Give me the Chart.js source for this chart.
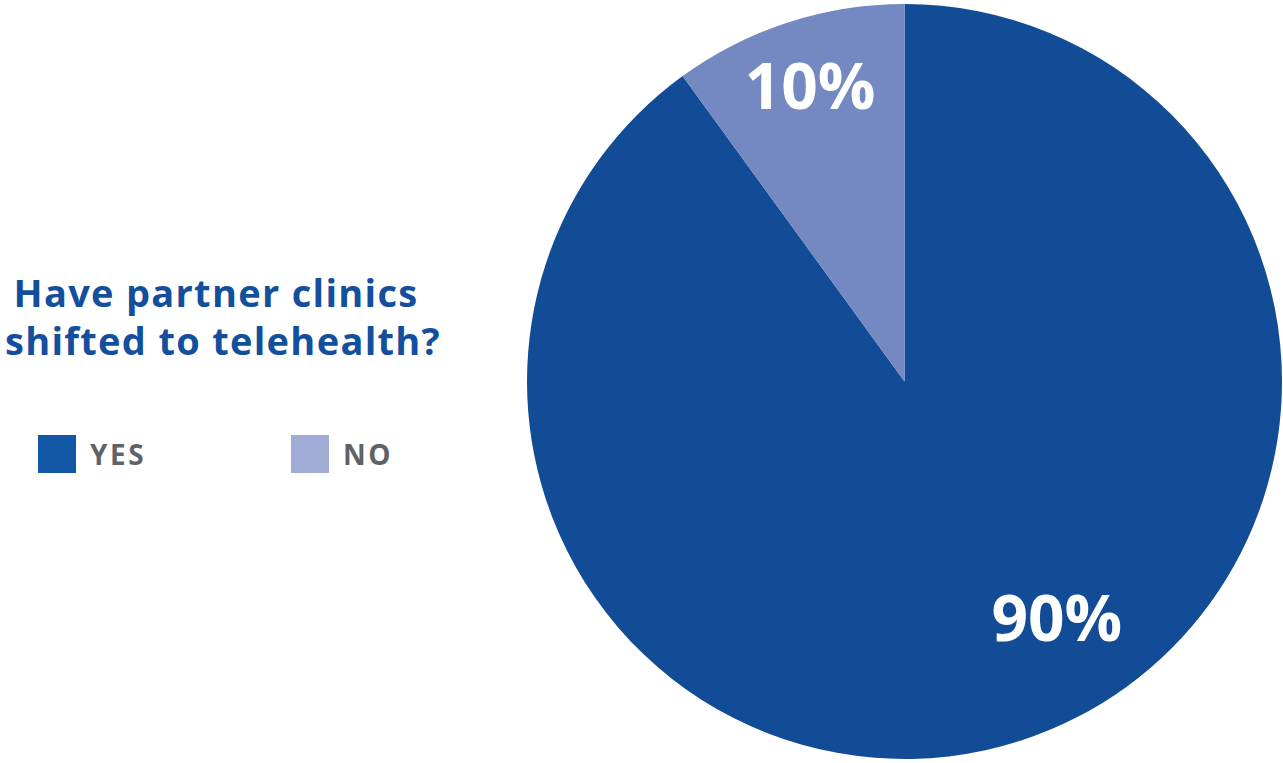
<!DOCTYPE html>
<html>
<head>
<meta charset="utf-8">
<script src="https://cdn.jsdelivr.net/npm/chart.js@4"></script>
<style>
  html, body { margin: 0; padding: 0; background: #ffffff; }
  body { width: 1283px; height: 763px; position: relative; overflow: hidden; font-family: "Open Sans", sans-serif; }
  #title { position: absolute; left: 0; width: 446px; top: 268px; text-align: center; color: #134f9c;
           font-weight: 700; font-size: 38px; line-height: 48px; letter-spacing: 1.3px; }
  #title .l1 { position: relative; left: -7px; }
  .leg { position: absolute; top: 435px; height: 38px; display: flex; align-items: center; }
  .sw { width: 38px; height: 38px; display: inline-block; }
  .lt { margin-left: 14px; color: #5f6368; font-weight: 700; font-size: 28px; letter-spacing: 2.6px; }
  #chartBox { position: absolute; left: 527px; top: 4px; width: 755px; height: 755px; }
</style>
</head>
<body>
<div id="title"><span class="l1">Have partner clinics</span><br>shifted to telehealth?</div>
<div id="legend"></div>
<div id="chartBox"><canvas id="c"></canvas></div>
<script>
const categories = ["YES", "NO"];
const values = [90, 10];
const valueLabels = ["90%", "10%"];
const sliceColors = ["#134c96", "#7489c2"];
const legendColors = ["#1257a6", "#a0acd6"];

// legend (HTML) built from the arrays
const legendLeft = [38, 291];
const legendEl = document.getElementById('legend');
categories.forEach((cat, i) => {
  const d = document.createElement('div');
  d.className = 'leg';
  d.style.left = legendLeft[i] + 'px';
  d.innerHTML = '<span class="sw" style="background:' + legendColors[i] + '"></span><span class="lt">' + cat + '</span>';
  legendEl.appendChild(d);
});

const labelPlugin = {
  id: 'sliceLabels',
  afterDatasetsDraw(chart, args, opts) {
    const ctx = chart.ctx;
    const meta = chart.getDatasetMeta(0);
    meta.data.forEach((arc, i) => {
      const p = arc.getProps(['x', 'y', 'startAngle', 'endAngle', 'outerRadius'], true);
      const place = opts.place[i];
      const a = p.startAngle + place.frac * (p.endAngle - p.startAngle);
      const r = p.outerRadius * place.rf;
      const x = p.x + Math.cos(a) * r;
      const y = p.y + Math.sin(a) * r;
      ctx.save();
      ctx.fillStyle = '#ffffff';
      ctx.font = '700 64px "Open Sans", sans-serif';
      ctx.textAlign = 'center';
      ctx.textBaseline = 'middle';
      ctx.fillText(valueLabels[i], x, y);
      ctx.restore();
    });
  }
};

new Chart(document.getElementById('c'), {
  type: 'pie',
  data: {
    labels: categories,
    datasets: [{
      data: values,
      backgroundColor: sliceColors,
      borderWidth: 0
    }]
  },
  options: {
    responsive: true,
    maintainAspectRatio: false,
    animation: false,
    layout: { padding: 0 },
    plugins: {
      legend: { display: false },
      tooltip: { enabled: false },
      sliceLabels: { place: [ { frac: 0.456, rf: 0.756 }, { frac: 0.5, rf: 0.81 } ] }
    }
  },
  plugins: [labelPlugin]
});
</script>
</body>
</html>
